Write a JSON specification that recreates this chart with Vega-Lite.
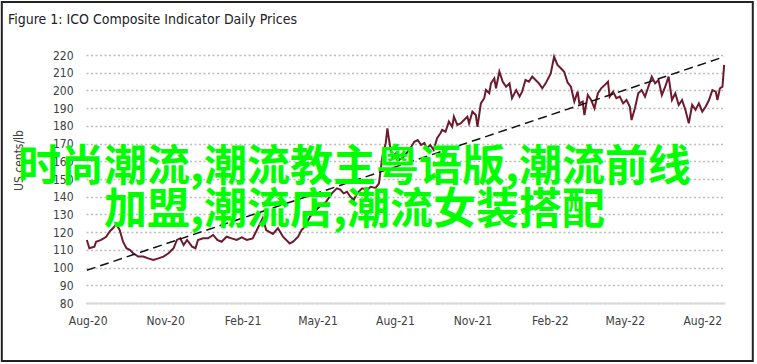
{
  "$schema": "https://vega.github.io/schema/vega-lite/v6.json",
  "autosize": {"type": "none"},
  "width": 639,
  "height": 248,
  "padding": {"left": 86, "top": 55, "right": 32, "bottom": 61},
  "background": "white",
  "config": {
    "view": {"stroke": null},
    "font": "DejaVu Sans Condensed",
    "axis": {"labelFont": "DejaVu Sans Condensed", "labelFontSize": 12, "labelColor": "#404040", "titleFont": "DejaVu Sans Condensed", "titleFontWeight": "normal", "titleColor": "#404040", "titleFontSize": 12, "labelOverlap": false, "labelFlush": false, "ticks": false},
    "axisX": {"grid": false, "domain": true, "domainColor": "#d9d9d9", "domainWidth": 2, "labelPadding": 12, "zindex": 1},
    "axisY": {"grid": true, "domain": false, "gridColor": "#bdbdbd", "gridOpacity": 1, "gridDash": [2, 2.5], "gridWidth": 1.5, "labelPadding": 13, "titlePadding": 27, "titleY": 105}
  },
  "title": {
    "text": "Figure 1: ICO Composite Indicator Daily Prices",
    "anchor": "start",
    "frame": "group",
    "dx": -78,
    "offset": -26,
    "font": "DejaVu Sans Condensed",
    "fontSize": 14,
    "fontWeight": "normal",
    "color": "#222222"
  },
  "datasets": {
    "prices": [
      {"date": "2020-07-31", "price": 115.6},
      {"date": "2020-08-03", "price": 110.9},
      {"date": "2020-08-09", "price": 111.8},
      {"date": "2020-08-11", "price": 114.6},
      {"date": "2020-08-17", "price": 115.6},
      {"date": "2020-08-23", "price": 117.4},
      {"date": "2020-08-27", "price": 120.3},
      {"date": "2020-08-31", "price": 122.2},
      {"date": "2020-09-04", "price": 124.5},
      {"date": "2020-09-08", "price": 121.2},
      {"date": "2020-09-12", "price": 114.6},
      {"date": "2020-09-16", "price": 110.9},
      {"date": "2020-09-20", "price": 110.0},
      {"date": "2020-09-24", "price": 108.1},
      {"date": "2020-09-30", "price": 106.2},
      {"date": "2020-10-06", "price": 106.2},
      {"date": "2020-10-12", "price": 105.2},
      {"date": "2020-10-18", "price": 104.3},
      {"date": "2020-10-24", "price": 105.2},
      {"date": "2020-10-30", "price": 106.2},
      {"date": "2020-11-05", "price": 108.1},
      {"date": "2020-11-11", "price": 110.9},
      {"date": "2020-11-15", "price": 115.6},
      {"date": "2020-11-19", "price": 116.5},
      {"date": "2020-11-23", "price": 112.7},
      {"date": "2020-11-27", "price": 115.6},
      {"date": "2020-12-03", "price": 111.8},
      {"date": "2020-12-07", "price": 110.9},
      {"date": "2020-12-10", "price": 115.6},
      {"date": "2020-12-16", "price": 116.5},
      {"date": "2020-12-22", "price": 116.5},
      {"date": "2020-12-28", "price": 118.4},
      {"date": "2021-01-02", "price": 115.6},
      {"date": "2021-01-07", "price": 114.6},
      {"date": "2021-01-13", "price": 117.4},
      {"date": "2021-01-19", "price": 116.5},
      {"date": "2021-01-25", "price": 115.6},
      {"date": "2021-01-31", "price": 117.0},
      {"date": "2021-02-06", "price": 115.6},
      {"date": "2021-02-13", "price": 116.5},
      {"date": "2021-02-19", "price": 122.2},
      {"date": "2021-02-23", "price": 126.0},
      {"date": "2021-02-25", "price": 128.0},
      {"date": "2021-03-01", "price": 121.2},
      {"date": "2021-03-09", "price": 119.0},
      {"date": "2021-03-15", "price": 122.2},
      {"date": "2021-03-21", "price": 117.4},
      {"date": "2021-03-29", "price": 113.6},
      {"date": "2021-04-02", "price": 114.6},
      {"date": "2021-04-08", "price": 117.4},
      {"date": "2021-04-12", "price": 121.2},
      {"date": "2021-04-16", "price": 123.1},
      {"date": "2021-04-22", "price": 128.7},
      {"date": "2021-04-28", "price": 132.0},
      {"date": "2021-05-05", "price": 135.0},
      {"date": "2021-05-11", "price": 137.0},
      {"date": "2021-05-18", "price": 141.9},
      {"date": "2021-05-24", "price": 144.7},
      {"date": "2021-05-28", "price": 144.0},
      {"date": "2021-06-01", "price": 141.9},
      {"date": "2021-06-05", "price": 142.8},
      {"date": "2021-06-09", "price": 140.0},
      {"date": "2021-06-13", "price": 138.1},
      {"date": "2021-06-17", "price": 141.9},
      {"date": "2021-06-23", "price": 144.7},
      {"date": "2021-06-29", "price": 143.8},
      {"date": "2021-07-03", "price": 145.6},
      {"date": "2021-07-09", "price": 145.0},
      {"date": "2021-07-13", "price": 147.6},
      {"date": "2021-07-15", "price": 155.0},
      {"date": "2021-07-17", "price": 162.6},
      {"date": "2021-07-21", "price": 170.2},
      {"date": "2021-07-23", "price": 178.6},
      {"date": "2021-07-25", "price": 172.0},
      {"date": "2021-07-27", "price": 166.4},
      {"date": "2021-07-29", "price": 162.6},
      {"date": "2021-08-02", "price": 164.5},
      {"date": "2021-08-06", "price": 160.7},
      {"date": "2021-08-12", "price": 163.0},
      {"date": "2021-08-18", "price": 166.4},
      {"date": "2021-08-24", "price": 171.0},
      {"date": "2021-08-28", "price": 172.0},
      {"date": "2021-09-01", "price": 169.2},
      {"date": "2021-09-05", "price": 170.2},
      {"date": "2021-09-08", "price": 167.3},
      {"date": "2021-09-12", "price": 169.2},
      {"date": "2021-09-16", "price": 166.4},
      {"date": "2021-09-20", "price": 173.0},
      {"date": "2021-09-24", "price": 175.8},
      {"date": "2021-09-26", "price": 177.7},
      {"date": "2021-09-30", "price": 176.7},
      {"date": "2021-10-04", "price": 182.4},
      {"date": "2021-10-08", "price": 179.5},
      {"date": "2021-10-10", "price": 185.2},
      {"date": "2021-10-14", "price": 180.5},
      {"date": "2021-10-18", "price": 181.4},
      {"date": "2021-10-22", "price": 183.3},
      {"date": "2021-10-26", "price": 185.2},
      {"date": "2021-10-28", "price": 181.4},
      {"date": "2021-11-01", "price": 188.0},
      {"date": "2021-11-05", "price": 186.1},
      {"date": "2021-11-07", "price": 179.5},
      {"date": "2021-11-11", "price": 192.7},
      {"date": "2021-11-15", "price": 195.6},
      {"date": "2021-11-17", "price": 200.2},
      {"date": "2021-11-21", "price": 198.4},
      {"date": "2021-11-23", "price": 204.0},
      {"date": "2021-11-27", "price": 206.8},
      {"date": "2021-11-29", "price": 201.2},
      {"date": "2021-12-03", "price": 210.6},
      {"date": "2021-12-07", "price": 204.9},
      {"date": "2021-12-11", "price": 202.1},
      {"date": "2021-12-15", "price": 204.0},
      {"date": "2021-12-18", "price": 195.6},
      {"date": "2021-12-23", "price": 200.2},
      {"date": "2021-12-27", "price": 196.5},
      {"date": "2021-12-30", "price": 199.3},
      {"date": "2022-01-03", "price": 205.9},
      {"date": "2022-01-07", "price": 204.9},
      {"date": "2022-01-11", "price": 207.8},
      {"date": "2022-01-15", "price": 205.9},
      {"date": "2022-01-19", "price": 204.0},
      {"date": "2022-01-23", "price": 201.2},
      {"date": "2022-01-27", "price": 204.0},
      {"date": "2022-02-02", "price": 209.6},
      {"date": "2022-02-06", "price": 219.0},
      {"date": "2022-02-10", "price": 214.4},
      {"date": "2022-02-14", "price": 212.5},
      {"date": "2022-02-18", "price": 210.5},
      {"date": "2022-02-22", "price": 204.5},
      {"date": "2022-02-26", "price": 202.1},
      {"date": "2022-03-02", "price": 193.7},
      {"date": "2022-03-06", "price": 199.3},
      {"date": "2022-03-08", "price": 192.7},
      {"date": "2022-03-12", "price": 193.7},
      {"date": "2022-03-14", "price": 186.1},
      {"date": "2022-03-18", "price": 197.4},
      {"date": "2022-03-22", "price": 194.6},
      {"date": "2022-03-26", "price": 189.9},
      {"date": "2022-03-30", "price": 198.4},
      {"date": "2022-04-03", "price": 201.2},
      {"date": "2022-04-07", "price": 203.0},
      {"date": "2022-04-11", "price": 204.9},
      {"date": "2022-04-13", "price": 196.5},
      {"date": "2022-04-17", "price": 199.3},
      {"date": "2022-04-21", "price": 195.6},
      {"date": "2022-04-25", "price": 196.5},
      {"date": "2022-04-29", "price": 192.7},
      {"date": "2022-05-03", "price": 194.6},
      {"date": "2022-05-07", "price": 190.8},
      {"date": "2022-05-09", "price": 183.3},
      {"date": "2022-05-13", "price": 189.9},
      {"date": "2022-05-17", "price": 198.4},
      {"date": "2022-05-21", "price": 200.2},
      {"date": "2022-05-25", "price": 196.5},
      {"date": "2022-05-29", "price": 202.1},
      {"date": "2022-06-02", "price": 207.8},
      {"date": "2022-06-06", "price": 204.0},
      {"date": "2022-06-10", "price": 205.9},
      {"date": "2022-06-14", "price": 197.4},
      {"date": "2022-06-18", "price": 202.1},
      {"date": "2022-06-22", "price": 207.8},
      {"date": "2022-06-26", "price": 194.6},
      {"date": "2022-06-30", "price": 198.4},
      {"date": "2022-07-04", "price": 191.8},
      {"date": "2022-07-08", "price": 194.6},
      {"date": "2022-07-12", "price": 189.0},
      {"date": "2022-07-16", "price": 181.4},
      {"date": "2022-07-20", "price": 191.8},
      {"date": "2022-07-24", "price": 189.0},
      {"date": "2022-07-28", "price": 192.7},
      {"date": "2022-08-01", "price": 188.0},
      {"date": "2022-08-05", "price": 190.8},
      {"date": "2022-08-09", "price": 194.6},
      {"date": "2022-08-13", "price": 200.2},
      {"date": "2022-08-17", "price": 199.3},
      {"date": "2022-08-19", "price": 194.6},
      {"date": "2022-08-22", "price": 201.2},
      {"date": "2022-08-25", "price": 202.1},
      {"date": "2022-08-27", "price": 214.4}
    ],
    "trend": [
      {"date": "2020-07-31", "price": 98.5},
      {"date": "2022-08-27", "price": 219}
    ],
    "frame": [
      {"date": "2020-04-21", "date2": "2022-09-30", "price": 47.3, "price2": 249.9}
    ],
    "watermark": [
      {"line1": "时尚潮流,潮流教主粤语版,潮流前线", "line2": "加盟,潮流店,潮流女装搭配"}
    ]
  },
  "layer": [
    {
      "encoding": {
        "x": {
          "field": "date", "type": "temporal",
          "scale": {"type": "utc", "domain": [{"year": 2020, "month": 7, "date": 30, "utc": true}, {"year": 2022, "month": 8, "date": 28, "utc": true}]},
          "axis": {
            "title": null,
            "format": "%b-%y",
            "values": [
              {"year": 2020, "month": 8, "date": 1, "utc": true},
              {"year": 2020, "month": 11, "date": 1, "utc": true},
              {"year": 2021, "month": 2, "date": 1, "utc": true},
              {"year": 2021, "month": 5, "date": 1, "utc": true},
              {"year": 2021, "month": 8, "date": 1, "utc": true},
              {"year": 2021, "month": 11, "date": 1, "utc": true},
              {"year": 2022, "month": 2, "date": 1, "utc": true},
              {"year": 2022, "month": 5, "date": 1, "utc": true},
              {"year": 2022, "month": 8, "date": 1, "utc": true}
            ]
          }
        },
        "y": {
          "field": "price", "type": "quantitative",
          "scale": {"domain": [80, 220], "nice": false, "zero": false},
          "axis": {
            "title": "US cents/lb",
            "grid": true,
            "values": [80, 90, 100, 110, 120, 130, 140, 150, 160, 170, 180, 190, 200, 210, 220]
          }
        }
      },
      "layer": [
        {
          "data": {"name": "prices"},
          "mark": {"type": "line", "color": "#6E1A2E", "strokeWidth": 2, "interpolate": "linear"}
        },
        {
          "data": {"name": "trend"},
          "mark": {"type": "line", "color": "#111111", "strokeWidth": 1.5, "strokeDash": [9, 5]}
        },
        {
          "data": {"name": "frame"},
          "mark": {"type": "rect", "filled": false, "stroke": "#222222", "strokeWidth": 2, "clip": false},
          "encoding": {
            "x2": {"field": "date2"},
            "y2": {"field": "price2"}
          }
        }
      ]
    },
    {
      "data": {"name": "watermark"},
      "encoding": {
        "x": {
          "datum": {"year": 2021, "month": 6, "date": 14, "utc": true}, "type": "temporal",
          "axis": {
            "title": null,
            "format": "%b-%y",
            "values": [
              {"year": 2020, "month": 8, "date": 1, "utc": true},
              {"year": 2020, "month": 11, "date": 1, "utc": true},
              {"year": 2021, "month": 2, "date": 1, "utc": true},
              {"year": 2021, "month": 5, "date": 1, "utc": true},
              {"year": 2021, "month": 8, "date": 1, "utc": true},
              {"year": 2021, "month": 11, "date": 1, "utc": true},
              {"year": 2022, "month": 2, "date": 1, "utc": true},
              {"year": 2022, "month": 5, "date": 1, "utc": true},
              {"year": 2022, "month": 8, "date": 1, "utc": true}
            ]
          }
        }
      },
      "layer": [
        {
          "mark": {"type": "text", "font": "Noto Sans CJK SC", "fontWeight": "bold", "fontSize": 43, "color": "#00FF00", "align": "center", "baseline": "middle"},
          "encoding": {
            "text": {"field": "line1"},
            "y": {
              "datum": 156, "type": "quantitative",
              "axis": {"title": "US cents/lb", "grid": true, "values": [80, 90, 100, 110, 120, 130, 140, 150, 160, 170, 180, 190, 200, 210, 220]}
            }
          }
        },
        {
          "mark": {"type": "text", "font": "Noto Sans CJK SC", "fontWeight": "bold", "fontSize": 43, "color": "#00FF00", "align": "center", "baseline": "middle"},
          "encoding": {
            "text": {"field": "line2"},
            "y": {
              "datum": 131.7, "type": "quantitative",
              "axis": {"title": "US cents/lb", "grid": true, "values": [80, 90, 100, 110, 120, 130, 140, 150, 160, 170, 180, 190, 200, 210, 220]}
            }
          }
        }
      ]
    }
  ]
}
